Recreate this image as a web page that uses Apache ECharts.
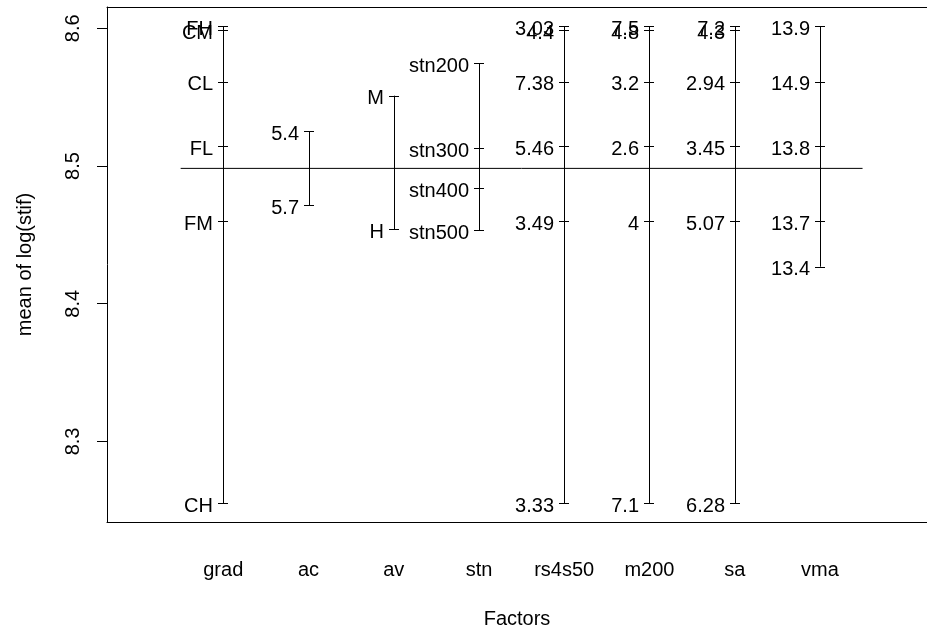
<!DOCTYPE html>
<html><head><meta charset="utf-8">
<script src="https://cdn.jsdelivr.net/npm/echarts@6/dist/echarts.min.js"></script>
<style>html,body{margin:0;padding:0;background:#fff}#c{width:927px;height:631px}</style>
</head><body><div id="c"></div>
<script>
// ---- data ----
const factors = ['grad', 'ac', 'av', 'stn', 'rs4s50', 'm200', 'sa', 'vma'];

const gradLabels   = ['FH', 'CM', 'CL', 'FL', 'FM', 'CH'];
const gradMeans    = [8.6015, 8.5988, 8.5612, 8.5145, 8.4601, 8.2550];
const acLabels     = ['5.4', '5.7'];
const acMeans      = [8.5254, 8.4717];
const avLabels     = ['M', 'H'];
const avMeans      = [8.5511, 8.4540];
const stnLabels    = ['stn200', 'stn300', 'stn400', 'stn500'];
const stnMeans     = [8.5746, 8.5129, 8.4838, 8.4535];
const rs4s50Labels = ['3.03', '4.4', '7.38', '5.46', '3.49', '3.33'];
const rs4s50Means  = [8.6015, 8.5988, 8.5612, 8.5145, 8.4601, 8.2550];
const m200Labels   = ['7.5', '4.8', '3.2', '2.6', '4', '7.1'];
const m200Means    = [8.6015, 8.5988, 8.5612, 8.5145, 8.4601, 8.2550];
const saLabels     = ['7.2', '4.3', '2.94', '3.45', '5.07', '6.28'];
const saMeans      = [8.6015, 8.5988, 8.5612, 8.5145, 8.4601, 8.2550];
const vmaLabels    = ['13.9', '14.9', '13.8', '13.7', '13.4'];
const vmaMeans     = [8.6017, 8.5612, 8.5145, 8.4601, 8.4269];

const grandMean = 8.4983;
const yTickValues = [8.3, 8.4, 8.5, 8.6];
const xTickValues = [1, 2, 3, 4, 5, 6, 7, 8];

// ---- build ----
const levelLabels = [gradLabels, acLabels, avLabels, stnLabels, rs4s50Labels, m200Labels, saLabels, vmaLabels];
const levelMeans  = [gradMeans, acMeans, avMeans, stnMeans, rs4s50Means, m200Means, saMeans, vmaMeans];

const stemData = [];
const levelData = [];
const levelText = [];
levelMeans.forEach((arr, i) => {
  stemData.push([i + 1, Math.min(...arr), Math.max(...arr)]);
  arr.forEach((v, j) => {
    levelData.push([i + 1, v]);
    levelText.push(levelLabels[i][j]);
  });
});

const FONT = 'Liberation Sans, Arial, Helvetica, sans-serif';
const crisp = v => Math.round(v) + 0.5;
const AX = {color: '#000', width: 1};

const chart = echarts.init(document.getElementById('c'), null, {renderer: 'canvas'});
chart.setOption({
  animation: false,
  backgroundColor: '#fff',
  textStyle: {fontFamily: FONT},
  grid: {left: 107, top: 7, right: 0, bottom: 109, show: false, containLabel: false, outerBoundsMode: 'none'},
  xAxis: [{
    type: 'value', min: -0.364, max: 9.256, position: 'bottom',
    splitLine: {show: false},
    axisLine: {show: true, onZero: false, lineStyle: AX},
    axisTick: {show: false},
    axisLabel: {customValues: xTickValues, formatter: v => factors[Math.round(v) - 1], margin: 38,
      fontSize: 20, color: '#000', fontFamily: FONT},
    name: 'Factors', nameLocation: 'middle', nameGap: 87,
    nameTextStyle: {fontSize: 20, color: '#000', fontFamily: FONT}
  }, {
    type: 'value', min: -0.364, max: 9.256, position: 'top',
    splitLine: {show: false},
    axisLine: {show: true, onZero: false, lineStyle: AX},
    axisTick: {show: false}, axisLabel: {show: false}
  }],
  yAxis: {
    type: 'value', min: 8.2415, max: 8.6155,
    splitLine: {show: false},
    axisLine: {show: true, onZero: false, lineStyle: AX},
    axisTick: {show: true, customValues: yTickValues, length: 10, lineStyle: AX},
    axisLabel: {customValues: yTickValues, rotate: 90, margin: 24, formatter: v => v.toFixed(1),
      fontSize: 20, color: '#000', fontFamily: FONT},
    name: 'mean of log(stif)', nameLocation: 'middle', nameGap: 72, nameRotate: 90,
    nameTextStyle: {fontSize: 20, color: '#000', fontFamily: FONT}
  },
  series: [
    {
      type: 'line', data: [[0.5, grandMean], [8.5, grandMean]], symbol: 'none',
      lineStyle: {color: '#000', width: 1}, silent: true
    },
    {
      type: 'custom', data: stemData, silent: true,
      renderItem: (params, api) => {
        const a = api.coord([api.value(0), api.value(1)]);
        const b = api.coord([api.value(0), api.value(2)]);
        const x = crisp(a[0]);
        return {type: 'line', shape: {x1: x, y1: a[1], x2: x, y2: b[1]},
          style: {stroke: '#000', lineWidth: 1}};
      }
    },
    {
      type: 'custom', data: levelData, silent: true,
      renderItem: (params, api) => {
        const p = api.coord([api.value(0), api.value(1)]);
        const x = Math.round(p[0]);
        const y = crisp(p[1]);
        return {
          type: 'group',
          children: [
            {type: 'line', shape: {x1: x - 5, y1: y, x2: x + 5, y2: y}, style: {stroke: '#000', lineWidth: 1}},
            {type: 'text', x: x - 10, y: p[1] + 3,
              style: {text: levelText[params.dataIndex], fill: '#000', font: '20px ' + FONT,
                textAlign: 'right', textVerticalAlign: 'middle'}}
          ]
        };
      }
    }
  ]
});
</script>
</body></html>
